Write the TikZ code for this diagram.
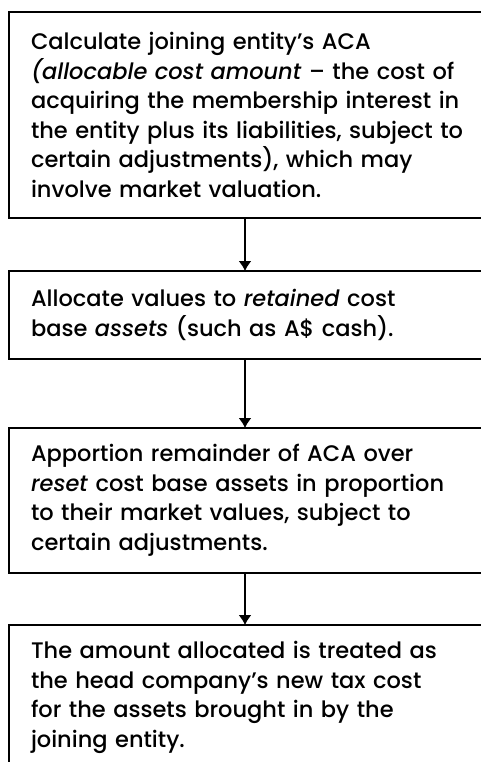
\documentclass[tikz,border=0pt]{standalone}
\usepackage{fontspec}
\setmainfont{Poppins}[UprightFont=* Medium, ItalicFont=* Medium Italic]
\usetikzlibrary{arrows.meta,positioning,calc}

\begin{document}
\begin{tikzpicture}[x=1pt,y=-1pt,
  stepbox/.style={draw, line width=2pt, outer sep=0pt, minimum width=490pt,
    text width=446pt, inner xsep=22pt, inner ysep=0pt, align=left,
    font=\fontsize{22.5}{29.5}\selectfont},
  flowarrow/.style={-{Latex[length=10pt,width=13pt]}, line width=1.5pt}]
  \useasboundingbox (0,0) rectangle (480,762);

  % Steps
  \node[stepbox, anchor=north west, minimum height=206pt] (aca) at (9,12)
    {Calculate joining entity’s ACA\\
     \textit{(allocable cost amount} – the cost of\\
     acquiring the membership interest in\\
     the entity plus its liabilities, subject to\\
     certain adjustments), which may\\
     involve market valuation.};
  \node[stepbox, minimum height=88pt, below=53pt of aca] (retain)
    {Allocate values to \textit{retained} cost\\
     base \textit{assets} (such as A\$ cash).};
  \node[stepbox, minimum height=145pt, below=69pt of retain] (reset)
    {Apportion remainder of ACA over\\
     \textit{reset} cost base assets in proportion\\
     to their market values, subject to\\
     certain adjustments.};
  \node[stepbox, minimum height=145pt, below=52pt of reset] (newcost)
    {The amount allocated is treated as\\
     the head company’s new tax cost\\
     for the assets brought in by the\\
     joining entity.};

  % Arrows
  \draw[flowarrow] ($(aca.south west)+(236,0)$) -- ($(retain.north west)+(236,0)$);
  \draw[flowarrow] ($(retain.south west)+(236,0)$) -- ($(reset.north west)+(236,0)$);
  \draw[flowarrow] ($(reset.south west)+(236,0)$) -- ($(newcost.north west)+(236,0)$);
\end{tikzpicture}
\end{document}
